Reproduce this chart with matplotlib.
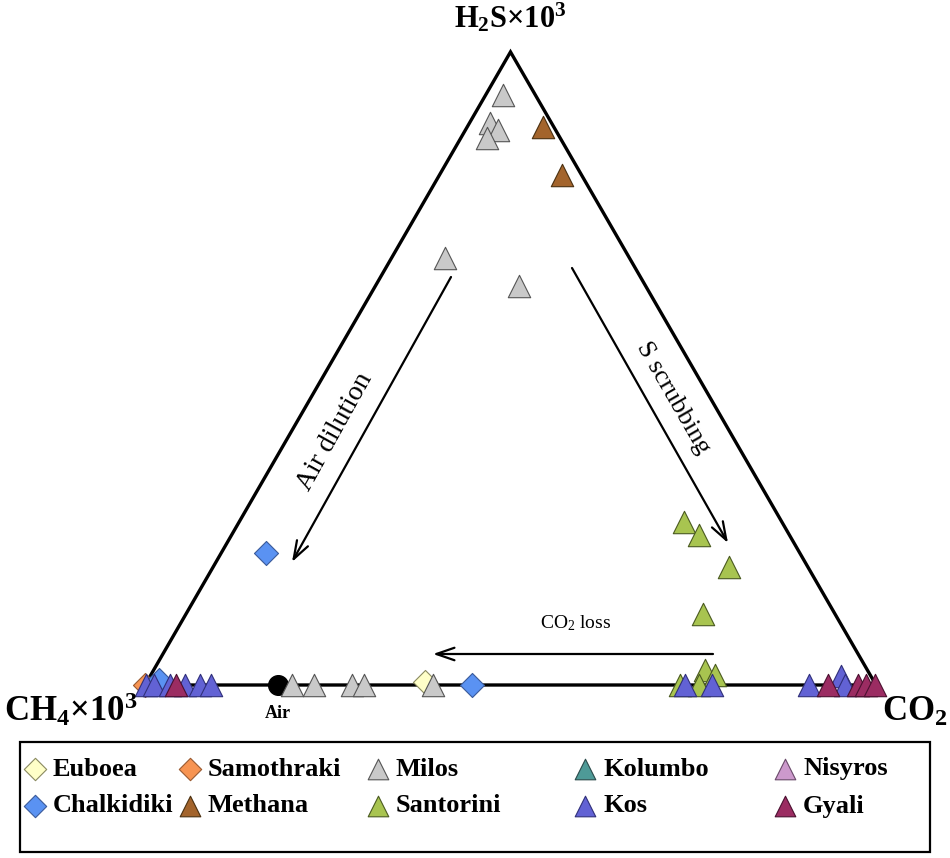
import matplotlib.pyplot as plt
import numpy as np
from matplotlib.patches import Rectangle

plt.rcParams['font.family'] = ['Liberation Serif', 'DejaVu Serif']
plt.rcParams['mathtext.fontset'] = 'custom'
plt.rcParams['mathtext.rm'] = 'Liberation Serif'
plt.rcParams['mathtext.bf'] = 'Liberation Serif:bold'
plt.rcParams['mathtext.it'] = 'Liberation Serif:italic'

# relative proportions: CH4*10^3, CO2, H2S*10^3 (percent of the sum)
euboea_ch4 = [61.5]
euboea_co2 = [38.0]
euboea_h2s = [0.5]

samothraki_ch4 = [100.0]
samothraki_co2 = [0.0]
samothraki_h2s = [0.0]

chalkidiki_ch4 = [73.0, 55.3, 98.5]
chalkidiki_co2 = [6.1, 44.7, 1.5]
chalkidiki_h2s = [20.9, 0.0, 0.8]

methana_ch4 = [1.5, 2.7]
methana_co2 = [10.4, 16.8]
methana_h2s = [88.1, 80.5]

milos_ch4 = [4.4, 8.4, 7.9, 10.0, 25.2, 17.3, 79.9, 76.9, 71.7, 70.0, 60.6]
milos_co2 = [2.4, 2.8, 4.4, 3.6, 7.3, 19.7, 20.1, 23.1, 28.3, 30.0, 39.4]
milos_h2s = [93.2, 88.8, 87.7, 86.4, 67.5, 63.0, 0.0, 0.0, 0.0, 0.0, 0.0]

santorini_ch4 = [13.4, 12.4, 10.8, 18.1, 22.2, 21.2, 26.8, 24.2]
santorini_co2 = [60.9, 63.9, 70.6, 70.7, 75.4, 77.2, 73.2, 75.8]
santorini_h2s = [25.7, 23.7, 18.6, 11.2, 2.4, 1.6, 0.0, 0.0]

kolumbo_ch4, kolumbo_co2, kolumbo_h2s = [], [], []
nisyros_ch4, nisyros_co2, nisyros_h2s = [], [], []

kos_ch4 = [99.9, 98.8, 96.6, 94.5, 92.5, 91.0, 26.1, 22.4, 9.2, 4.1, 4.2]
kos_co2 = [0.1, 1.2, 3.4, 5.5, 7.5, 9.0, 73.9, 77.6, 90.8, 94.5, 95.8]
kos_h2s = [0.0, 0.0, 0.0, 0.0, 0.0, 0.0, 0.0, 0.0, 0.0, 1.4, 0.0]

gyali_ch4 = [95.8, 6.6, 2.5, 1.4, 0.1]
gyali_co2 = [4.2, 93.4, 97.5, 98.6, 99.9]
gyali_h2s = [0.0, 0.0, 0.0, 0.0, 0.0]

air_ch4 = [81.8]
air_co2 = [18.2]
air_h2s = [0.0]

H = np.sqrt(3) / 2


def tern(ch4, co2, h2s):
    ch4 = np.array(ch4, dtype=float)
    co2 = np.array(co2, dtype=float)
    h2s = np.array(h2s, dtype=float)
    tot = ch4 + co2 + h2s
    x = (co2 + h2s / 2) / tot
    y = h2s / tot * H
    return x, y


groups = [
    ("Euboea", euboea_ch4, euboea_co2, euboea_h2s, "D", "#FFFFC8", "#8A8A60"),
    ("Chalkidiki", chalkidiki_ch4, chalkidiki_co2, chalkidiki_h2s, "D", "#5A92F2", "#3A5A9A"),
    ("Samothraki", samothraki_ch4, samothraki_co2, samothraki_h2s, "D", "#F79452", "#9A5A30"),
    ("Methana", methana_ch4, methana_co2, methana_h2s, "^", "#A3642C", "#4A3010"),
    ("Milos", milos_ch4, milos_co2, milos_h2s, "^", "#C9C9C9", "#555555"),
    ("Santorini", santorini_ch4, santorini_co2, santorini_h2s, "^", "#A8C450", "#4A5A20"),
    ("Kolumbo", kolumbo_ch4, kolumbo_co2, kolumbo_h2s, "^", "#4E9A97", "#2A4A4A"),
    ("Kos", kos_ch4, kos_co2, kos_h2s, "^", "#6262D4", "#30307A"),
    ("Nisyros", nisyros_ch4, nisyros_co2, nisyros_h2s, "^", "#CC99CC", "#6A4A6A"),
    ("Gyali", gyali_ch4, gyali_co2, gyali_h2s, "^", "#9B2C62", "#4A1030"),
]
draw_order = ["Samothraki", "Euboea", "Chalkidiki", "Methana", "Milos", "Santorini",
              "Kolumbo", "Nisyros", "Kos", "Gyali"]

fig = plt.figure(figsize=(9.5, 8.58), dpi=100)
ax = fig.add_axes([0, 0, 1, 1])
# triangle side = 731 px, base at y=685 px, left vertex at x=145 px
ax.set_xlim(-145 / 731, 805 / 731)
ax.set_ylim((685 - 858) / 731, 685 / 731)
ax.axis('off')

ax.plot([0, 1, 0.5, 0], [0, 0, H, 0], color='k', lw=2.4, solid_joinstyle='miter', zorder=1)

# air
xa, ya = tern(air_ch4, air_co2, air_h2s)
ax.scatter(xa, ya, s=200, marker='o', color='k', zorder=2)

look = {g[0]: g for g in groups}
for z, name in enumerate(draw_order):
    g = look[name]
    if len(g[1]) == 0:
        continue
    x, y = tern(g[1], g[2], g[3])
    if g[4] == "D":
        ax.scatter(x, y, s=150, marker='D', color=g[5], edgecolors=g[6], linewidths=0.8, zorder=3 + z)
    else:
        ax.scatter(x, y, s=260, marker='^', color=g[5], edgecolors=g[6], linewidths=0.8, zorder=3 + z)

# overlay axes in pixel units for labels, arrows and legend
lax = fig.add_axes([0, 0, 1, 1], facecolor='none')
lax.set_xlim(0, 950)
lax.set_ylim(858, 0)
lax.axis('off')

lax.text(510, 28, r"H$_\mathbf{2}$S×10$^\mathbf{3}$", fontsize=22, fontweight='bold', ha='center', va='baseline')
lax.text(4, 721, r"CH$_\mathbf{4}$×10$^\mathbf{3}$", fontsize=25, fontweight='bold', ha='left', va='baseline')
lax.text(948, 721, r"CO$_\mathbf{2}$", fontsize=25, fontweight='bold', ha='right', va='baseline')
lax.text(278, 718, "Air", fontsize=13, fontweight='bold', ha='center', va='baseline')

arr = dict(arrowstyle='->,head_length=1.3,head_width=0.45', color='k', lw=1.6, shrinkA=0, shrinkB=0)
lax.annotate("", xy=(292, 562), xytext=(451, 277), arrowprops=arr)
lax.annotate("", xy=(728, 543), xytext=(572, 268), arrowprops=arr)
lax.annotate("", xy=(433, 654), xytext=(713, 654), arrowprops=arr)

lax.text(335, 432, "Air dilution", fontsize=20, rotation=61, ha='center', va='center', rotation_mode='anchor')
lax.text(673, 398, "S scrubbing", fontsize=19, rotation=-60, ha='center', va='center', rotation_mode='anchor')
lax.text(576, 623, r"CO$_2$ loss", fontsize=14, ha='center', va='center')

# legend
lax.add_patch(Rectangle((20, 742), 910, 110, fill=False, edgecolor='k', lw=1.6))
col_x = [35, 190, 378, 585, 785]
row_y = [769, 806]
for i, g in enumerate(groups):
    cx = col_x[i // 2]
    cy = row_y[i % 2]
    if g[4] == "D":
        lax.scatter([cx], [cy], s=130, marker='D', color=g[5], edgecolors=g[6], linewidths=0.8)
    else:
        lax.scatter([cx], [cy], s=220, marker='^', color=g[5], edgecolors=g[6], linewidths=0.8)
    lax.text(cx + 18, cy, g[0], fontsize=19, fontweight='bold', ha='left', va='center')

fig.savefig("out.png", dpi=100)
